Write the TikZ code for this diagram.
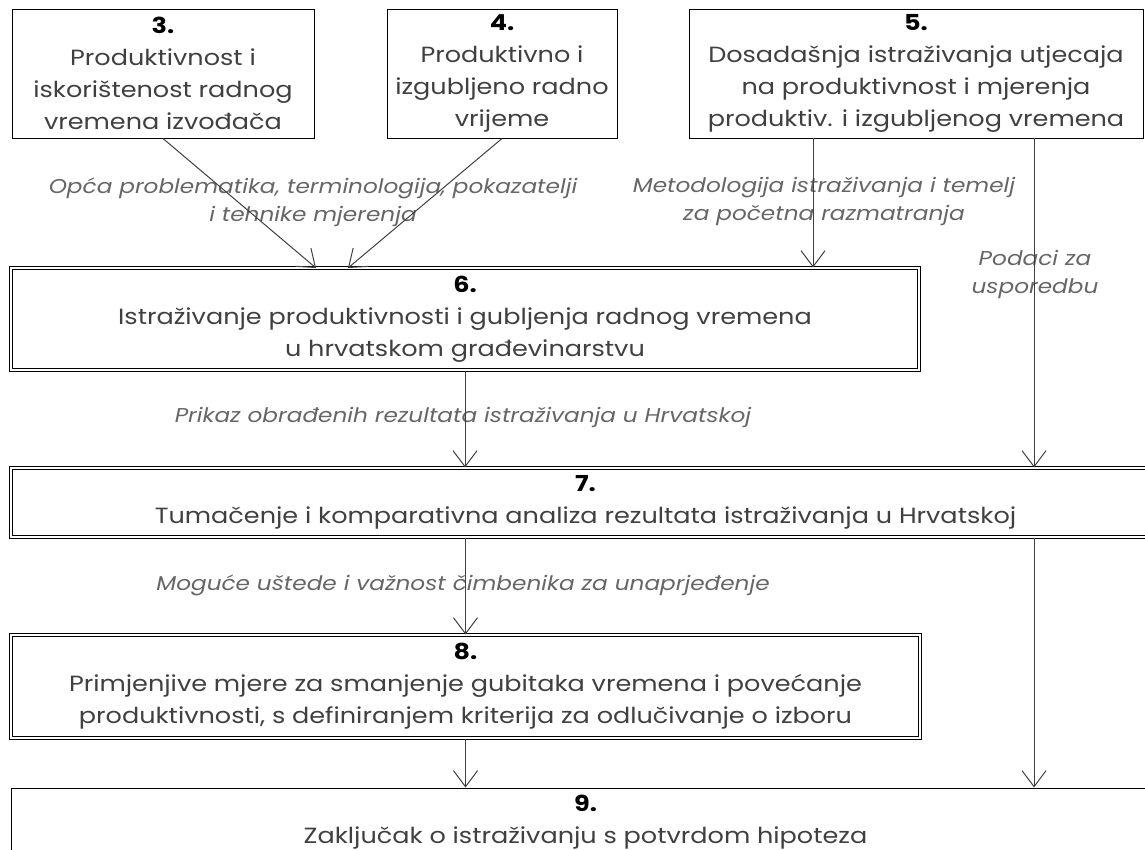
\documentclass[tikz,border=0pt]{standalone}
\usepackage{fontspec}
\setmainfont{Poppins}[FakeStretch=1.16]
\usetikzlibrary{arrows.meta}

\begin{document}
\begin{tikzpicture}[x=1pt,y=-1pt,
  box/.style={draw, line width=1pt, align=center, inner sep=0pt, text=black!75, font=\fontsize{22}{32}\selectfont},
  dbox/.style={box, double, double distance=2pt},
  lbl/.style={align=center, text=black!60, font=\fontsize{20}{28}\selectfont\itshape},
  arr/.style={-{Straight Barb[length=16pt,width=24pt]}, line width=1pt, black!75}]

\clip (0,0) rectangle (1145,849);

\node[box, minimum width=302, minimum height=129] (s3) at (163,73.5) {\textbf{\color{black}3.}\\Produktivnost i\\iskorištenost radnog\\vremena izvođača};
\node[box, minimum width=230, minimum height=129] (s4) at (502,73.5) {\textbf{\color{black}4.}\\Produktivno i\\izgubljeno radno\\vrijeme};
\node[box, minimum width=454, minimum height=129] (s5) at (916,73.5) {\textbf{\color{black}5.}\\Dosadašnja istraživanja utjecaja\\na produktivnost i mjerenja\\produktiv. i izgubljenog vremena};
\node[dbox, minimum width=908, minimum height=102] (s6) at (465,319) {\textbf{\color{black}6.}\\Istraživanje produktivnosti i gubljenja radnog vremena\\u hrvatskom građevinarstvu};
\node[dbox, minimum width=1149, minimum height=69] (s7) at (585.5,502.5) {\textbf{\color{black}7.}\\Tumačenje i komparativna analiza rezultata istraživanja u Hrvatskoj};
\node[dbox, minimum width=909, minimum height=103] (s8) at (465.5,686.5) {\textbf{\color{black}8.}\\Primjenjive mjere za smanjenje gubitaka vremena i povećanje\\produktivnosti, s definiranjem kriterija za odlučivanje o izboru};
\node[box, minimum width=1149, minimum height=68] (s9) at (585.5,822) {\textbf{\color{black}9.}\\Zaključak o istraživanju s potvrdom hipoteza};

\node[lbl] (l3) at (313,202) {Opća problematika, terminologija, pokazatelji\\i tehnike mjerenja};
\node[lbl] (l5) at (824,201) {Metodologija istraživanja i temelj\\za početna razmatranja};
\node[lbl] (l9) at (1035,274) {Podaci za\\usporedbu};
\node[lbl] (l6) at (463,417) {Prikaz obrađenih rezultata istraživanja u Hrvatskoj};
\node[lbl] (l7) at (463,585) {Moguće uštede i važnost čimbenika za unaprjeđenje};

\coordinate (t3) at (316,268);
\coordinate (t4) at (348,268);
\coordinate (p5) at (813,138);
\coordinate (q5) at (1034,138);

\draw[arr] (s3.south) -- (t3);
\draw[arr] (s4.south) -- (t4);
\draw[arr] (p5) -- (p5 |- s6.north);
\draw[arr] (q5) -- (q5 |- s7.north);
\draw[arr] (s6.south) -- (s6.south |- s7.north);
\draw[arr] (s8.north |- s7.south) -- (s8.north);
\draw[arr] (s8.south) -- (s8.south |- s9.north);
\draw[arr] (q5 |- s7.south) -- (q5 |- s9.north);
\end{tikzpicture}
\end{document}
